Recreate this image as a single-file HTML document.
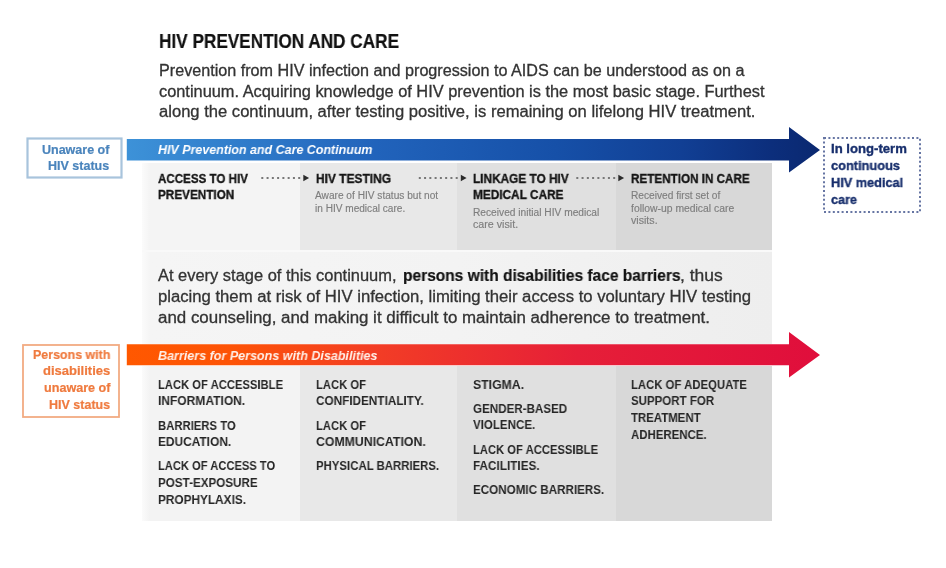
<!DOCTYPE html>
<html><head><meta charset="utf-8"><style>
html,body{margin:0;padding:0;background:#fff;width:946px;height:568px;overflow:hidden;}
body{position:relative;font-family:"Liberation Sans", sans-serif;}
.t{position:absolute;white-space:nowrap;transform-origin:0 0;-webkit-font-smoothing:antialiased;will-change:transform;}
.t b{font-weight:700;color:#111;}
.r{position:absolute;}
</style></head><body>
<!-- panels top -->
<div class="r" style="left:141.5px;top:163px;width:158.5px;height:87px;background:linear-gradient(90deg,#fbfbfb,#f4f4f4 8px)"></div>
<div class="r" style="left:300px;top:163px;width:156.5px;height:87px;background:#e8e8e8"></div>
<div class="r" style="left:456.5px;top:163px;width:159.5px;height:87px;background:#e0e0e0"></div>
<div class="r" style="left:616px;top:163px;width:156px;height:87px;background:#d8d8d8"></div>
<!-- middle -->
<div class="r" style="left:141.5px;top:250px;width:630px;height:94px;background:linear-gradient(90deg,#fbfbfb,#f5f5f5 8px,#f3f3f3 50%,#eeeeee)"></div>
<div class="r" style="left:141.5px;top:250px;width:630.5px;height:2px;background:#f9f9f9"></div>
<!-- bottom -->
<div class="r" style="left:141.5px;top:366px;width:158.5px;height:155px;background:linear-gradient(90deg,#fbfbfb,#f3f3f3 8px)"></div>
<div class="r" style="left:300px;top:366px;width:156.5px;height:155px;background:#e8e8e8"></div>
<div class="r" style="left:456.5px;top:366px;width:159.5px;height:155px;background:#e0e0e0"></div>
<div class="r" style="left:616px;top:366px;width:156px;height:155px;background:#d8d8d8"></div>
<!-- arrows -->
<svg class="r" style="left:0;top:0" width="946" height="568">
<defs>
<linearGradient id="gb" x1="126" x2="820" y1="0" y2="0" gradientUnits="userSpaceOnUse">
<stop offset="0" stop-color="#3d92d8"/><stop offset="0.36" stop-color="#2163bb"/><stop offset="0.62" stop-color="#1650a8"/><stop offset="0.8" stop-color="#113f94"/><stop offset="0.93" stop-color="#0c2e7c"/><stop offset="1" stop-color="#0a2870"/>
</linearGradient>
<linearGradient id="gr" x1="126" x2="820" y1="0" y2="0" gradientUnits="userSpaceOnUse">
<stop offset="0" stop-color="#ff5800"/><stop offset="0.15" stop-color="#fd5306"/><stop offset="0.37" stop-color="#f23c26"/><stop offset="0.65" stop-color="#e61f38"/><stop offset="1" stop-color="#e00e3c"/>
</linearGradient>
</defs>
<path d="M126.8 139 H789 V127 L820 150 L789 172.5 V160.5 H126.8 Z" fill="url(#gb)"/>
<path d="M126.8 344.3 H789 V332 L820 355 L789 377.5 V365.2 H126.8 Z" fill="url(#gr)"/>
<!-- dotted arrows -->
<g fill="#777777"><rect x="261.30" y="177" width="2" height="2"/><rect x="266.57" y="177" width="2" height="2"/><rect x="271.84" y="177" width="2" height="2"/><rect x="277.11" y="177" width="2" height="2"/><rect x="282.38" y="177" width="2" height="2"/><rect x="287.65" y="177" width="2" height="2"/><rect x="292.92" y="177" width="2" height="2"/><rect x="298.19" y="177" width="2" height="2"/><path d="M303.30 174.8 L309.10 178 L303.30 181.2 Z" fill="#2a2a2a"/><rect x="418.80" y="177" width="2" height="2"/><rect x="424.07" y="177" width="2" height="2"/><rect x="429.34" y="177" width="2" height="2"/><rect x="434.61" y="177" width="2" height="2"/><rect x="439.88" y="177" width="2" height="2"/><rect x="445.15" y="177" width="2" height="2"/><rect x="450.42" y="177" width="2" height="2"/><rect x="455.69" y="177" width="2" height="2"/><path d="M460.80 174.8 L466.60 178 L460.80 181.2 Z" fill="#2a2a2a"/><rect x="576.30" y="177" width="2" height="2"/><rect x="581.57" y="177" width="2" height="2"/><rect x="586.84" y="177" width="2" height="2"/><rect x="592.11" y="177" width="2" height="2"/><rect x="597.38" y="177" width="2" height="2"/><rect x="602.65" y="177" width="2" height="2"/><rect x="607.92" y="177" width="2" height="2"/><rect x="613.19" y="177" width="2" height="2"/><path d="M618.30 174.8 L624.10 178 L618.30 181.2 Z" fill="#2a2a2a"/></g>
<rect x="27.5" y="138.5" width="94" height="39" fill="none" stroke="#a8c4dc" stroke-width="2.2"/>
<rect x="23" y="345" width="96" height="72" fill="none" stroke="#f2ab82" stroke-width="1.8"/>
<rect x="824" y="138" width="96" height="74" fill="none" stroke="#6675a3" stroke-width="2" stroke-dasharray="2 2.4"/>
</svg>

<div class='t' style='left:159.00px;top:29.70px;font-size:20px;line-height:22.340px;font-weight:700;font-style:normal;color:#111;transform:scaleX(0.8593);-webkit-text-stroke:0.2px #111'>HIV PREVENTION AND CARE</div>
<div class='t' style='left:158.50px;top:61.62px;font-size:16px;line-height:17.872px;font-weight:400;font-style:normal;color:#333333;transform:scaleX(1.0096);-webkit-text-stroke:0.3px #333333'>Prevention from HIV infection and progression to AIDS can be understood as on a</div>
<div class='t' style='left:158.50px;top:82.62px;font-size:16px;line-height:17.872px;font-weight:400;font-style:normal;color:#333333;transform:scaleX(1.0223);-webkit-text-stroke:0.3px #333333'>continuum. Acquiring knowledge of HIV prevention is the most basic stage. Furthest</div>
<div class='t' style='left:158.50px;top:103.12px;font-size:16px;line-height:17.872px;font-weight:400;font-style:normal;color:#333333;transform:scaleX(1.0366);-webkit-text-stroke:0.3px #333333'>along the continuum, after testing positive, is remaining on lifelong HIV treatment.</div>
<div class='t' style='left:157.60px;top:142.53px;font-size:13px;line-height:14.521px;font-weight:700;font-style:italic;color:#ffffff;transform:scaleX(0.9579);'>HIV Prevention and Care Continuum</div>
<div class='t' style='left:157.60px;top:348.83px;font-size:13px;line-height:14.521px;font-weight:700;font-style:italic;color:#fff0e8;transform:scaleX(0.9645);'>Barriers for Persons with Disabilities</div>
<div class='t' style='left:42.11px;top:143.69px;font-size:12.5px;line-height:13.963px;font-weight:700;font-style:normal;color:#4a84bc;transform:scaleX(1.0000);-webkit-text-stroke:0.2px #4a84bc'>Unaware of</div>
<div class='t' style='left:48.36px;top:160.19px;font-size:12.5px;line-height:13.963px;font-weight:700;font-style:normal;color:#4a84bc;transform:scaleX(1.0000);-webkit-text-stroke:0.2px #4a84bc'>HIV status</div>
<div class='t' style='left:32.70px;top:348.69px;font-size:12.5px;line-height:13.963px;font-weight:700;font-style:normal;color:#ef7a3e;transform:scaleX(0.9936);-webkit-text-stroke:0.2px #ef7a3e'>Persons with</div>
<div class='t' style='left:42.70px;top:365.44px;font-size:12.5px;line-height:13.963px;font-weight:700;font-style:normal;color:#ef7a3e;transform:scaleX(1.0416);-webkit-text-stroke:0.2px #ef7a3e'>disabilities</div>
<div class='t' style='left:43.50px;top:382.19px;font-size:12.5px;line-height:13.963px;font-weight:700;font-style:normal;color:#ef7a3e;transform:scaleX(1.0076);-webkit-text-stroke:0.2px #ef7a3e'>unaware of</div>
<div class='t' style='left:49.00px;top:398.94px;font-size:12.5px;line-height:13.963px;font-weight:700;font-style:normal;color:#ef7a3e;transform:scaleX(0.9977);-webkit-text-stroke:0.2px #ef7a3e'>HIV status</div>
<div class='t' style='left:831.00px;top:142.44px;font-size:13px;line-height:14.521px;font-weight:700;font-style:normal;color:#172e6c;transform:scaleX(1.0100);-webkit-text-stroke:0.35px #172e6c'>In long-term</div>
<div class='t' style='left:831.00px;top:159.24px;font-size:13px;line-height:14.521px;font-weight:700;font-style:normal;color:#172e6c;transform:scaleX(0.9850);-webkit-text-stroke:0.35px #172e6c'>continuous</div>
<div class='t' style='left:831.00px;top:176.03px;font-size:13px;line-height:14.521px;font-weight:700;font-style:normal;color:#172e6c;transform:scaleX(0.9800);-webkit-text-stroke:0.35px #172e6c'>HIV medical</div>
<div class='t' style='left:831.00px;top:192.83px;font-size:13px;line-height:14.521px;font-weight:700;font-style:normal;color:#172e6c;transform:scaleX(0.9700);-webkit-text-stroke:0.35px #172e6c'>care</div>
<div class='t' style='left:158.20px;top:171.76px;font-size:13.3px;line-height:14.856px;font-weight:700;font-style:normal;color:#151515;transform:scaleX(0.8721);-webkit-text-stroke:0.35px #151515'>ACCESS TO HIV</div>
<div class='t' style='left:158.20px;top:188.36px;font-size:13.3px;line-height:14.856px;font-weight:700;font-style:normal;color:#151515;transform:scaleX(0.8826);-webkit-text-stroke:0.35px #151515'>PREVENTION</div>
<div class='t' style='left:315.50px;top:171.76px;font-size:13.3px;line-height:14.856px;font-weight:700;font-style:normal;color:#151515;transform:scaleX(0.8984);-webkit-text-stroke:0.35px #151515'>HIV TESTING</div>
<div class='t' style='left:473.30px;top:171.76px;font-size:13.3px;line-height:14.856px;font-weight:700;font-style:normal;color:#151515;transform:scaleX(0.8892);-webkit-text-stroke:0.35px #151515'>LINKAGE TO HIV</div>
<div class='t' style='left:473.30px;top:188.36px;font-size:13.3px;line-height:14.856px;font-weight:700;font-style:normal;color:#151515;transform:scaleX(0.8889);-webkit-text-stroke:0.35px #151515'>MEDICAL CARE</div>
<div class='t' style='left:631.00px;top:171.76px;font-size:13.3px;line-height:14.856px;font-weight:700;font-style:normal;color:#151515;transform:scaleX(0.8779);-webkit-text-stroke:0.35px #151515'>RETENTION IN CARE</div>
<div class='t' style='left:315.30px;top:190.25px;font-size:10px;line-height:11.170px;font-weight:400;font-style:normal;color:#7e7e7e;transform:scaleX(1.0135);-webkit-text-stroke:0.15px #7e7e7e'>Aware of HIV status but not</div>
<div class='t' style='left:315.30px;top:203.05px;font-size:10px;line-height:11.170px;font-weight:400;font-style:normal;color:#7e7e7e;transform:scaleX(1.0080);-webkit-text-stroke:0.15px #7e7e7e'>in HIV medical care.</div>
<div class='t' style='left:473.20px;top:206.85px;font-size:10px;line-height:11.170px;font-weight:400;font-style:normal;color:#7e7e7e;transform:scaleX(1.0189);-webkit-text-stroke:0.15px #7e7e7e'>Received initial HIV medical</div>
<div class='t' style='left:473.20px;top:219.35px;font-size:10px;line-height:11.170px;font-weight:400;font-style:normal;color:#7e7e7e;transform:scaleX(1.0679);-webkit-text-stroke:0.15px #7e7e7e'>care visit.</div>
<div class='t' style='left:631.20px;top:190.05px;font-size:10px;line-height:11.170px;font-weight:400;font-style:normal;color:#7e7e7e;transform:scaleX(1.0169);-webkit-text-stroke:0.15px #7e7e7e'>Received first set of</div>
<div class='t' style='left:631.20px;top:202.55px;font-size:10px;line-height:11.170px;font-weight:400;font-style:normal;color:#7e7e7e;transform:scaleX(1.0372);-webkit-text-stroke:0.15px #7e7e7e'>follow-up medical care</div>
<div class='t' style='left:631.20px;top:215.05px;font-size:10px;line-height:11.170px;font-weight:400;font-style:normal;color:#7e7e7e;transform:scaleX(1.0640);-webkit-text-stroke:0.15px #7e7e7e'>visits.</div>
<div class='t' style='left:158.40px;top:377.82px;font-size:12.8px;line-height:14.298px;font-weight:700;font-style:normal;color:#262626;transform:scaleX(0.8776);'>LACK OF ACCESSIBLE</div>
<div class='t' style='left:158.40px;top:394.32px;font-size:12.8px;line-height:14.298px;font-weight:700;font-style:normal;color:#262626;transform:scaleX(0.9387);'>INFORMATION.</div>
<div class='t' style='left:158.40px;top:418.92px;font-size:12.8px;line-height:14.298px;font-weight:700;font-style:normal;color:#262626;transform:scaleX(0.8836);'>BARRIERS TO</div>
<div class='t' style='left:158.40px;top:435.42px;font-size:12.8px;line-height:14.298px;font-weight:700;font-style:normal;color:#262626;transform:scaleX(0.9303);'>EDUCATION.</div>
<div class='t' style='left:158.40px;top:459.42px;font-size:12.8px;line-height:14.298px;font-weight:700;font-style:normal;color:#262626;transform:scaleX(0.8714);'>LACK OF ACCESS TO</div>
<div class='t' style='left:158.40px;top:475.92px;font-size:12.8px;line-height:14.298px;font-weight:700;font-style:normal;color:#262626;transform:scaleX(0.9095);'>POST-EXPOSURE</div>
<div class='t' style='left:158.40px;top:492.52px;font-size:12.8px;line-height:14.298px;font-weight:700;font-style:normal;color:#262626;transform:scaleX(0.9234);'>PROPHYLAXIS.</div>
<div class='t' style='left:315.70px;top:377.82px;font-size:12.8px;line-height:14.298px;font-weight:700;font-style:normal;color:#262626;transform:scaleX(0.8809);'>LACK OF</div>
<div class='t' style='left:315.70px;top:394.32px;font-size:12.8px;line-height:14.298px;font-weight:700;font-style:normal;color:#262626;transform:scaleX(0.9181);'>CONFIDENTIALITY.</div>
<div class='t' style='left:315.70px;top:418.92px;font-size:12.8px;line-height:14.298px;font-weight:700;font-style:normal;color:#262626;transform:scaleX(0.8809);'>LACK OF</div>
<div class='t' style='left:315.70px;top:435.42px;font-size:12.8px;line-height:14.298px;font-weight:700;font-style:normal;color:#262626;transform:scaleX(0.9604);'>COMMUNICATION.</div>
<div class='t' style='left:315.70px;top:459.42px;font-size:12.8px;line-height:14.298px;font-weight:700;font-style:normal;color:#262626;transform:scaleX(0.8900);'>PHYSICAL BARRIERS.</div>
<div class='t' style='left:473.40px;top:377.82px;font-size:12.8px;line-height:14.298px;font-weight:700;font-style:normal;color:#262626;transform:scaleX(0.9582);'>STIGMA.</div>
<div class='t' style='left:473.40px;top:401.72px;font-size:12.8px;line-height:14.298px;font-weight:700;font-style:normal;color:#262626;transform:scaleX(0.9074);'>GENDER-BASED</div>
<div class='t' style='left:473.40px;top:418.32px;font-size:12.8px;line-height:14.298px;font-weight:700;font-style:normal;color:#262626;transform:scaleX(0.9017);'>VIOLENCE.</div>
<div class='t' style='left:473.40px;top:442.72px;font-size:12.8px;line-height:14.298px;font-weight:700;font-style:normal;color:#262626;transform:scaleX(0.8776);'>LACK OF ACCESSIBLE</div>
<div class='t' style='left:473.40px;top:459.22px;font-size:12.8px;line-height:14.298px;font-weight:700;font-style:normal;color:#262626;transform:scaleX(0.9182);'>FACILITIES.</div>
<div class='t' style='left:473.40px;top:482.92px;font-size:12.8px;line-height:14.298px;font-weight:700;font-style:normal;color:#262626;transform:scaleX(0.9090);'>ECONOMIC BARRIERS.</div>
<div class='t' style='left:631.40px;top:377.82px;font-size:12.8px;line-height:14.298px;font-weight:700;font-style:normal;color:#262626;transform:scaleX(0.8860);'>LACK OF ADEQUATE</div>
<div class='t' style='left:631.40px;top:394.32px;font-size:12.8px;line-height:14.298px;font-weight:700;font-style:normal;color:#262626;transform:scaleX(0.8990);'>SUPPORT FOR</div>
<div class='t' style='left:631.40px;top:410.92px;font-size:12.8px;line-height:14.298px;font-weight:700;font-style:normal;color:#262626;transform:scaleX(0.8927);'>TREATMENT</div>
<div class='t' style='left:631.40px;top:427.62px;font-size:12.8px;line-height:14.298px;font-weight:700;font-style:normal;color:#262626;transform:scaleX(0.8945);'>ADHERENCE.</div>
<div class='t' style='left:158.00px;top:266.72px;font-size:16px;line-height:17.872px;font-weight:400;font-style:normal;color:#333333;transform:scaleX(1.0275);-webkit-text-stroke:0.3px #333333'>At every stage of this continuum,</div>
<div class='t' style='left:402.50px;top:266.72px;font-size:16px;line-height:17.872px;font-weight:700;font-style:normal;color:#111;transform:scaleX(0.9692);-webkit-text-stroke:0.2px #111'>persons with disabilities face barriers</div>
<div class='t' style='left:680.00px;top:266.72px;font-size:16px;line-height:17.872px;font-weight:400;font-style:normal;color:#333333;transform:scaleX(1.0909);-webkit-text-stroke:0.3px #333333'>, thus</div>
<div class='t' style='left:158.00px;top:288.02px;font-size:16px;line-height:17.872px;font-weight:400;font-style:normal;color:#333333;transform:scaleX(1.0419);-webkit-text-stroke:0.3px #333333'>placing them at risk of HIV infection, limiting their access to voluntary HIV testing</div>
<div class='t' style='left:158.00px;top:309.02px;font-size:16px;line-height:17.872px;font-weight:400;font-style:normal;color:#333333;transform:scaleX(1.0561);-webkit-text-stroke:0.3px #333333'>and counseling, and making it difficult to maintain adherence to treatment.</div>
</body></html>
